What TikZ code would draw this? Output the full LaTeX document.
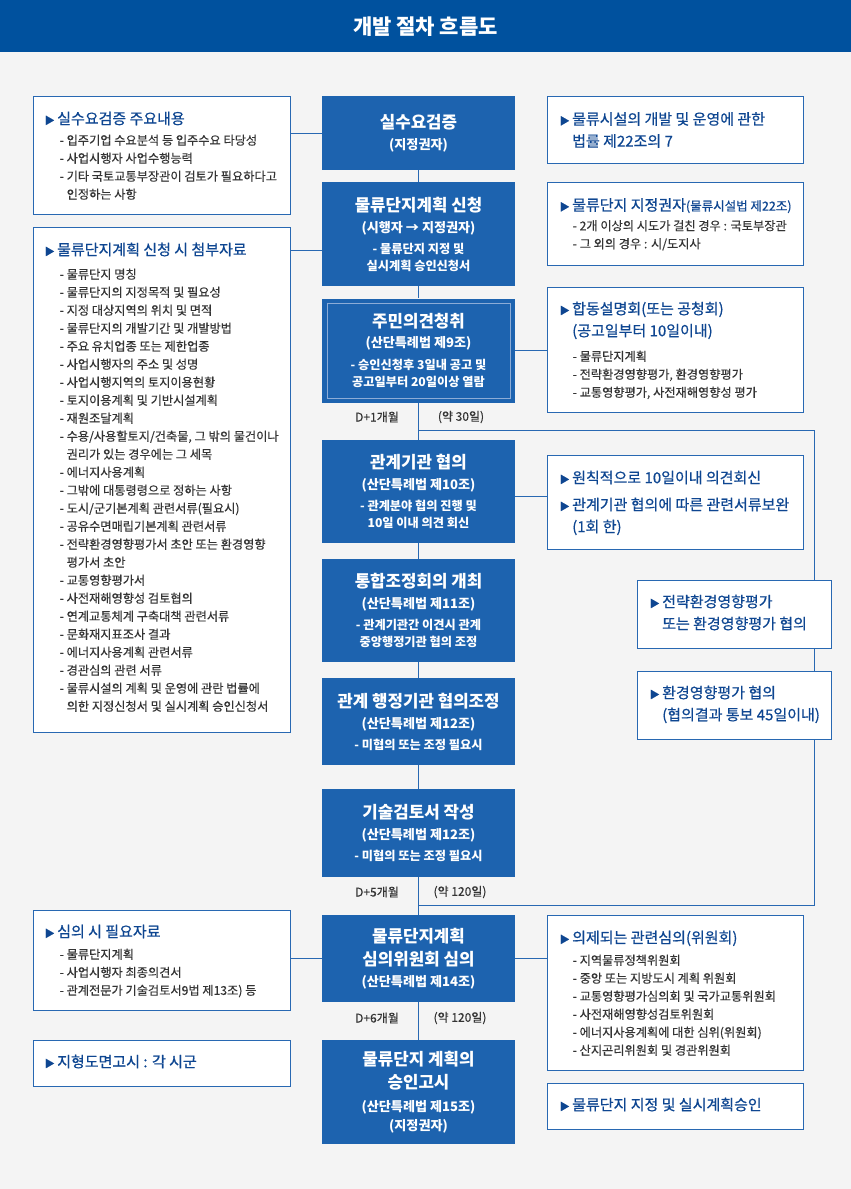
\documentclass[tikz,border=0pt]{standalone}
\usepackage{fontspec}
\setmainfont{Noto Sans CJK KR}[RawFeature=+palt]
\newfontfamily\medfont{Noto Sans CJK KR}[RawFeature=+palt, FakeBold=0.6]
\newfontfamily\itmfont{Noto Sans CJK KR}[RawFeature=+palt, FakeBold=0.3]
\usetikzlibrary{positioning}

\definecolor{hdrblue}{RGB}{0,81,158}
\definecolor{boxblue}{RGB}{29,99,175}
\definecolor{lineblue}{RGB}{40,104,178}
\definecolor{headblue}{RGB}{14,70,145}
\definecolor{itemgray}{RGB}{52,52,52}
\definecolor{pagebg}{RGB}{244,244,244}
\definecolor{innerln}{RGB}{140,172,215}

\newcommand{\bttl}[1]{{\fontsize{16.8}{17}\selectfont #1}}
\newcommand{\bsub}[1]{{\fontsize{13.1}{17}\selectfont #1}}
\newcommand{\tri}{{\fontsize{10}{10}\selectfont ▶}\hspace{2.5pt}}
\newcommand{\itmind}{\phantom{- }}
\newcommand{\triind}{\phantom{\tri}}

\begin{document}
\begin{tikzpicture}[x=1pt, y=-1pt]

  \tikzstyle{cbox} = [fill=boxblue, text=white, minimum width=193pt, align=center, inner sep=0pt, font=\bfseries\fontsize{12.2}{17}\selectfont]
  \tikzstyle{sbox} = [draw=lineblue, line width=1pt, fill=white, inner sep=0pt]
  \tikzstyle{hd}   = [anchor=north west, align=left, inner sep=0pt, text=headblue, font=\medfont\fontsize{15}{22}\selectfont]
  \tikzstyle{itm}  = [anchor=north west, align=left, inner sep=0pt, text=itemgray, font=\itmfont\fontsize{12.2}{18}\selectfont]
  \tikzstyle{ln}   = [draw=lineblue, line width=1pt]
  \tikzstyle{dlbl} = [text=itemgray, inner sep=0pt, font=\itmfont\fontsize{12}{14}\selectfont]

  % ---- PAGE ----
  \useasboundingbox (0,0) rectangle (851,1189);
  \fill[pagebg] (0,0) rectangle (851,1189);
  \fill[hdrblue] (0,0) rectangle (851,52);
  \node[text=white, font=\bfseries\fontsize{21}{22}\selectfont] (title) at (425.5,27) {개발 절차 흐름도};

  % ---- CENTRE FLOW ----
  \node[cbox, minimum height=74pt] (b1) at (418.5,133) {\bttl{실수요검증}\\[4pt]\bsub{(지정권자)}};
  \node[cbox, minimum height=104pt] (b2) at (418.5,234) {\bttl{물류단지계획 신청}\\[4pt]\bsub{(시행자 → 지정권자)}\\[4pt]- 물류단지 지정 및\\실시계획 승인신청서};
  \node[cbox, minimum height=104pt] (b3) at (418.5,350.5) {\bttl{주민의견청취}\\[3pt]\bsub{(산단특례법 제9조)}\\[5pt]- 승인신청후 3일내 공고 및\\공고일부터 20일이상 열람};
  \draw[innerln] ([shift={(5pt,-5pt)}]b3.north west) rectangle ([shift={(-5pt,5pt)}]b3.south east);
  \node[cbox, minimum height=103pt] (b4) at (418.5,491.5) {\bttl{관계기관 협의}\\[4pt]\bsub{(산단특례법 제10조)}\\[4pt]- 관계분야 협의 진행 및\\10일 이내 의견 회신};
  \node[cbox, minimum height=103pt] (b5) at (418.5,610.5) {\bttl{통합조정회의 개최}\\[4pt]\bsub{(산단특례법 제11조)}\\[4pt]- 관계기관간 이견시 관계\\중앙행정기관 협의 조정};
  \node[cbox, minimum height=87pt] (b6) at (418.5,721.5) {\bttl{관계 행정기관 협의조정}\\[4pt]\bsub{(산단특례법 제12조)}\\[4pt]- 미협의 또는 조정 필요시};
  \node[cbox, minimum height=88pt] (b7) at (418.5,833) {\bttl{기술검토서 작성}\\[4pt]\bsub{(산단특례법 제12조)}\\[4pt]- 미협의 또는 조정 필요시};
  \node[cbox, minimum height=87pt] (b8) at (418.5,958.5) {\bttl{물류단지계획}\\[6pt]\bttl{심의위원회 심의}\\[4pt]\bsub{(산단특례법 제14조)}};
  \node[cbox, minimum height=104pt] (b9) at (418.5,1092) {\bttl{물류단지 계획의}\\[6pt]\bttl{승인고시}\\[6pt]\bsub{(산단특례법 제15조)}\\[2pt]\bsub{(지정권자)}};

  \foreach \a/\b in {b1/b2, b2/b3, b3/b4, b4/b5, b5/b6, b6/b7, b7/b8, b8/b9}{
    \draw[ln] (\a) -- (\b);
  }

  % ---- DURATION LABELS ----
  \node[dlbl] (d1) at (377,417) {D+1개월};
  \node[dlbl] (d1r) at (461,417) {(약 30일)};
  \node[dlbl] (d5) at (377,892) {D+5개월};
  \node[dlbl] (d5r) at (460,892) {(약 120일)};
  \node[dlbl] (d6) at (377,1018) {D+6개월};
  \node[dlbl] (d6r) at (460,1018) {(약 120일)};

  % ---- ENVIRONMENT LOOP ----
  \coordinate (lpTop) at (814,430);
  \coordinate (lpBot) at (814,905);
  \draw[ln] (lpTop -| b3) -- (lpTop) -- (lpBot) -- (lpBot -| b8);

  % ---- LEFT NOTES ----
  \node[sbox, minimum width=257pt, minimum height=118pt] (l1) at (161.5,155) {};
  \node[hd] (l1h) at ([xshift=12pt,yshift=-16pt]l1.north west) {\tri 실수요검증 주요내용};
  \node[itm] (l1i) at ([xshift=27pt,yshift=-39pt]l1.north west) {- 입주기업 수요분석 등 입주수요 타당성\\- 사업시행자 사업수행능력\\- 기타 국토교통부장관이 검토가 필요하다고\\\itmind 인정하는 사항};
  \draw[ln] (b1.west) -- (b1.west -| l1.east);

  \node[sbox, minimum width=257pt, minimum height=505pt] (l2) at (161.5,479.5) {};
  \node[hd] (l2h) at ([xshift=12pt,yshift=-16pt]l2.north west) {\tri 물류단지계획 신청 시 첨부자료};
  \node[itm] (l2i) at ([xshift=27pt,yshift=-42pt]l2.north west) {- 물류단지 명칭\\- 물류단지의 지정목적 및 필요성\\- 지정 대상지역의 위치 및 면적\\- 물류단지의 개발기간 및 개발방법\\- 주요 유치업종 또는 제한업종\\- 사업시행자의 주소 및 성명\\- 사업시행지역의 토지이용현황\\- 토지이용계획 및 기반시설계획\\- 재원조달계획\\- 수용/사용할토지/건축물, 그 밖의 물건이나\\\itmind 권리가 있는 경우에는 그 세목\\- 에너지사용계획\\- 그밖에 대통령령으로 정하는 사항\\- 도시/군기본계획 관련서류(필요시)\\- 공유수면매립기본계획 관련서류\\- 전략환경영향평가서 초안 또는 환경영향\\\itmind 평가서 초안\\- 교통영향평가서\\- 사전재해영향성 검토협의\\- 연계교통체계 구축대책 관련서류\\- 문화재지표조사 결과\\- 에너지사용계획 관련서류\\- 경관심의 관련 서류\\- 물류시설의 계획 및 운영에 관란 법률에\\\itmind 의한 지정신청서 및 실시계획 승인신청서};
  \draw[ln] ([yshift=-16pt]b2.west) -- ([yshift=-16pt]b2.west -| l2.east);

  \node[sbox, minimum width=257pt, minimum height=100pt] (l3) at (161.5,960) {};
  \node[hd] (l3h) at ([xshift=12pt,yshift=-15pt]l3.north west) {\tri 심의 시 필요자료};
  \node[itm] (l3i) at ([xshift=27pt,yshift=-39pt]l3.north west) {- 물류단지계획\\- 사업시행자 최종의견서\\- 관계전문가 기술검토서9법 제13조) 등};
  \draw[ln] (b8.west) -- (b8.west -| l3.east);

  \node[sbox, minimum width=257pt, minimum height=46pt] (l4) at (161.5,1063) {};
  \node[hd] (l4h) at ([xshift=12pt,yshift=-15pt]l4.north west) {\tri 지형도면고시 : 각 시군};

  % ---- RIGHT NOTES ----
  \node[sbox, minimum width=256pt, minimum height=67pt] (r1) at (675,130) {};
  \node[hd] (r1h) at ([xshift=13pt,yshift=-16pt]r1.north west) {\tri 물류시설의 개발 및 운영에 관한\\\triind 법률 제22조의 7};

  \node[sbox, minimum width=256pt, minimum height=83pt] (r2) at (675,224) {};
  \node[hd] (r2h) at ([xshift=13pt,yshift=-16pt]r2.north west) {\tri 물류단지 지정권자{\fontsize{12.5}{14}\selectfont(물류시설법 제22조)}};
  \node[itm] (r2i) at ([xshift=26pt,yshift=-38pt]r2.north west) {- 2개 이상의 시도가 걸친 경우 : 국토부장관\\- 그 외의 경우 : 시/도지사};

  \node[sbox, minimum width=256pt, minimum height=125pt] (r3) at (675,349.5) {};
  \node[hd] (r3h) at ([xshift=13pt,yshift=-15pt]r3.north west) {\tri 합동설명회(또는 공청회)\\\triind (공고일부터 10일이내)};
  \node[itm] (r3i) at ([xshift=26pt,yshift=-64pt]r3.north west) {- 물류단지계획\\- 전략환경영향평가, 환경영향평가\\- 교통영향평가, 사전재해영향성 평가};
  \draw[ln] (b3.east) -- (b3.east -| r3.west);

  \node[sbox, minimum width=256pt, minimum height=94pt] (r4) at (675,502) {};
  \node[hd] (r4h) at ([xshift=13pt,yshift=-16pt]r4.north west) {\tri 원칙적으로 10일이내 의견회신\\[5pt]\tri 관계기관 협의에 따른 관련서류보완\\\triind (1회 한)};
  \draw[ln] ([yshift=-5pt]b4.east) -- ([yshift=-5pt]b4.east -| r4.west);

  \node[sbox, minimum width=194pt, minimum height=68pt] (r5) at (734,614) {};
  \node[hd] (r5h) at ([xshift=13pt,yshift=-15pt]r5.north west) {\tri 전략환경영향평가\\\triind 또는 환경영향평가 협의};

  \node[sbox, minimum width=194pt, minimum height=68pt] (r6) at (734,705) {};
  \node[hd] (r6h) at ([xshift=13pt,yshift=-15pt]r6.north west) {\tri 환경영향평가 협의\\\triind (협의결과 통보 45일이내)};

  \node[sbox, minimum width=256pt, minimum height=155pt] (r7) at (675,992.5) {};
  \node[hd] (r7h) at ([xshift=13pt,yshift=-16pt]r7.north west) {\tri 의제되는 관련심의(위원회)};
  \node[itm] (r7i) at ([xshift=26pt,yshift=-40pt]r7.north west) {- 지역물류정책위원회\\- 중앙 또는 지방도시 계획 위원회\\- 교통영향평가심의회 및 국가교통위원회\\- 사전재해영향성검토위원회\\- 에너지사용계획에 대한 심위(위원회)\\- 산지곤리위원회 및 경관위원회};
  \draw[ln] (b8.east) -- (b8.east -| r7.west);

  \node[sbox, minimum width=256pt, minimum height=46pt] (r8) at (675,1106) {};
  \node[hd] (r8h) at ([xshift=13pt,yshift=-15pt]r8.north west) {\tri 물류단지 지정 및 실시계획승인};

\end{tikzpicture}
\end{document}
